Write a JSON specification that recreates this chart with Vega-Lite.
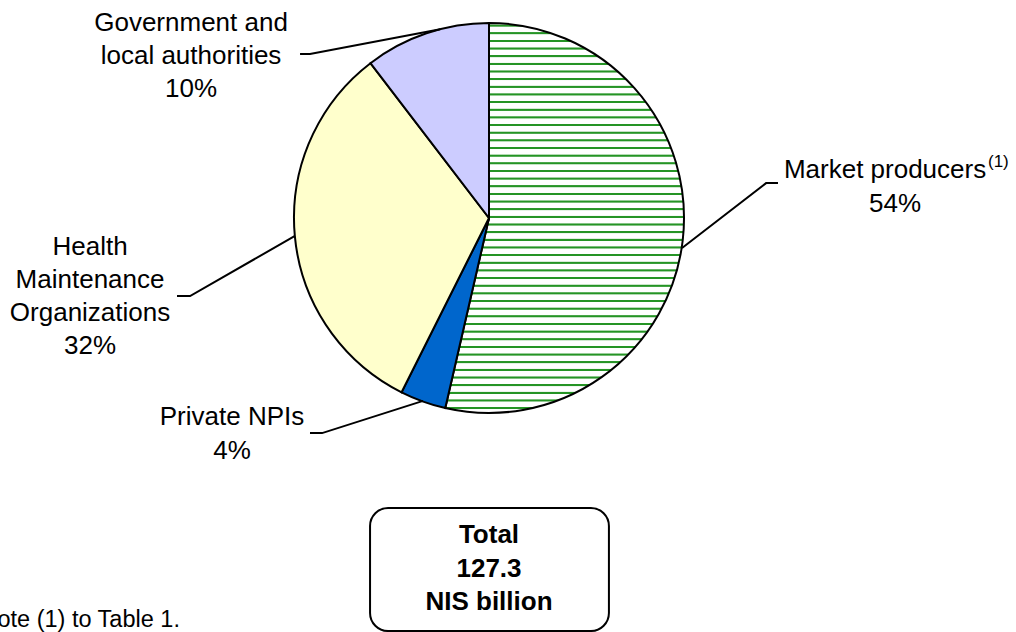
{
  "$schema": "https://vega.github.io/schema/vega-lite/v6.json",
  "width": 390,
  "height": 390,
  "autosize": {"type": "none"},
  "padding": {"left": 294, "top": 23, "right": 332, "bottom": 219},
  "background": "#ffffff",
  "config": {"view": {"stroke": null}, "text": {"font": "Liberation Sans"}},
  "datasets": {
    "slices": [
      {"sector": "Market producers", "share": 53.6, "ord": 1},
      {"sector": "Private NPIs", "share": 3.8, "ord": 2},
      {"sector": "Health Maintenance Organizations", "share": 32.2, "ord": 3},
      {"sector": "Government and local authorities", "share": 10.4, "ord": 4}
    ],
    "leaders": [
      {"g": "gov", "i": 0, "u": -0.969, "v": 0.841},
      {"g": "gov", "i": 1, "u": -0.918, "v": 0.841},
      {"g": "gov", "i": 2, "u": -0.25, "v": 0.968},
      {"g": "hmo", "i": 0, "u": -1.6, "v": -0.4},
      {"g": "hmo", "i": 1, "u": -1.533, "v": -0.4},
      {"g": "hmo", "i": 2, "u": -0.995, "v": -0.092},
      {"g": "npi", "i": 0, "u": -0.918, "v": -1.103},
      {"g": "npi", "i": 1, "u": -0.856, "v": -1.103},
      {"g": "npi", "i": 2, "u": -0.338, "v": -0.938},
      {"g": "mkt", "i": 0, "u": 1.482, "v": 0.179},
      {"g": "mkt", "i": 1, "u": 1.421, "v": 0.179},
      {"g": "mkt", "i": 2, "u": 0.99, "v": -0.154}
    ],
    "labels": [
      {"t": "Government and", "u": -1.528, "v": 0.959},
      {"t": "local authorities", "u": -1.528, "v": 0.79},
      {"t": "10%", "u": -1.528, "v": 0.621},
      {"t": "Health", "u": -2.046, "v": -0.19},
      {"t": "Maintenance", "u": -2.046, "v": -0.359},
      {"t": "Organizations", "u": -2.046, "v": -0.528},
      {"t": "32%", "u": -2.046, "v": -0.697},
      {"t": "Private NPIs", "u": -1.318, "v": -1.062},
      {"t": "4%", "u": -1.318, "v": -1.236},
      {"t": "Market producers", "u": 2.031, "v": 0.205},
      {"t": "54%", "u": 2.082, "v": 0.031}
    ],
    "sup": [{"t": "(1)", "u": 2.559, "v": 0.262}],
    "box": [{"u": -0.61, "u2": 0.615, "v": -1.487, "v2": -2.118}],
    "boxtext": [
      {"t": "Total", "u": 0.0, "v": -1.667},
      {"t": "127.3", "u": 0.0, "v": -1.841},
      {"t": "NIS billion", "u": 0.0, "v": -2.01}
    ],
    "note": [{"t": "(1) See note (1) to Table 1.", "u": -1.585, "v": -2.097}]
  },
  "layer": [
    {
      "data": {"name": "slices"},
      "mark": {"type": "arc", "outerRadius": 195, "stroke": "#000000", "strokeWidth": 2},
      "encoding": {
        "theta": {"field": "share", "type": "quantitative", "stack": true},
        "order": {"field": "ord", "type": "quantitative"},
        "fill": {
          "condition": {
            "test": "datum.sector === 'Market producers'",
            "value": {
              "gradient": "linear", "x1": 0, "y1": 0, "x2": 0, "y2": 1,
              "stops": [
                {"offset": 0.0, "color": "#ffffff"},
                {"offset": 0.0031, "color": "#ffffff"}, {"offset": 0.0049, "color": "#259425"}, {"offset": 0.0084, "color": "#259425"}, {"offset": 0.0102, "color": "#ffffff"},
                {"offset": 0.0227, "color": "#ffffff"}, {"offset": 0.0245, "color": "#259425"}, {"offset": 0.0280, "color": "#259425"}, {"offset": 0.0298, "color": "#ffffff"},
                {"offset": 0.0423, "color": "#ffffff"}, {"offset": 0.0441, "color": "#259425"}, {"offset": 0.0476, "color": "#259425"}, {"offset": 0.0494, "color": "#ffffff"},
                {"offset": 0.0619, "color": "#ffffff"}, {"offset": 0.0637, "color": "#259425"}, {"offset": 0.0673, "color": "#259425"}, {"offset": 0.0690, "color": "#ffffff"},
                {"offset": 0.0815, "color": "#ffffff"}, {"offset": 0.0833, "color": "#259425"}, {"offset": 0.0869, "color": "#259425"}, {"offset": 0.0887, "color": "#ffffff"},
                {"offset": 0.1012, "color": "#ffffff"}, {"offset": 0.1029, "color": "#259425"}, {"offset": 0.1065, "color": "#259425"}, {"offset": 0.1083, "color": "#ffffff"},
                {"offset": 0.1208, "color": "#ffffff"}, {"offset": 0.1226, "color": "#259425"}, {"offset": 0.1261, "color": "#259425"}, {"offset": 0.1279, "color": "#ffffff"},
                {"offset": 0.1404, "color": "#ffffff"}, {"offset": 0.1422, "color": "#259425"}, {"offset": 0.1457, "color": "#259425"}, {"offset": 0.1475, "color": "#ffffff"},
                {"offset": 0.1600, "color": "#ffffff"}, {"offset": 0.1618, "color": "#259425"}, {"offset": 0.1653, "color": "#259425"}, {"offset": 0.1671, "color": "#ffffff"},
                {"offset": 0.1796, "color": "#ffffff"}, {"offset": 0.1814, "color": "#259425"}, {"offset": 0.1850, "color": "#259425"}, {"offset": 0.1867, "color": "#ffffff"},
                {"offset": 0.1992, "color": "#ffffff"}, {"offset": 0.2010, "color": "#259425"}, {"offset": 0.2046, "color": "#259425"}, {"offset": 0.2064, "color": "#ffffff"},
                {"offset": 0.2189, "color": "#ffffff"}, {"offset": 0.2206, "color": "#259425"}, {"offset": 0.2242, "color": "#259425"}, {"offset": 0.2260, "color": "#ffffff"},
                {"offset": 0.2385, "color": "#ffffff"}, {"offset": 0.2403, "color": "#259425"}, {"offset": 0.2438, "color": "#259425"}, {"offset": 0.2456, "color": "#ffffff"},
                {"offset": 0.2581, "color": "#ffffff"}, {"offset": 0.2599, "color": "#259425"}, {"offset": 0.2634, "color": "#259425"}, {"offset": 0.2652, "color": "#ffffff"},
                {"offset": 0.2777, "color": "#ffffff"}, {"offset": 0.2795, "color": "#259425"}, {"offset": 0.2830, "color": "#259425"}, {"offset": 0.2848, "color": "#ffffff"},
                {"offset": 0.2973, "color": "#ffffff"}, {"offset": 0.2991, "color": "#259425"}, {"offset": 0.3027, "color": "#259425"}, {"offset": 0.3044, "color": "#ffffff"},
                {"offset": 0.3169, "color": "#ffffff"}, {"offset": 0.3187, "color": "#259425"}, {"offset": 0.3223, "color": "#259425"}, {"offset": 0.3241, "color": "#ffffff"},
                {"offset": 0.3366, "color": "#ffffff"}, {"offset": 0.3383, "color": "#259425"}, {"offset": 0.3419, "color": "#259425"}, {"offset": 0.3437, "color": "#ffffff"},
                {"offset": 0.3562, "color": "#ffffff"}, {"offset": 0.3580, "color": "#259425"}, {"offset": 0.3615, "color": "#259425"}, {"offset": 0.3633, "color": "#ffffff"},
                {"offset": 0.3758, "color": "#ffffff"}, {"offset": 0.3776, "color": "#259425"}, {"offset": 0.3811, "color": "#259425"}, {"offset": 0.3829, "color": "#ffffff"},
                {"offset": 0.3954, "color": "#ffffff"}, {"offset": 0.3972, "color": "#259425"}, {"offset": 0.4007, "color": "#259425"}, {"offset": 0.4025, "color": "#ffffff"},
                {"offset": 0.4150, "color": "#ffffff"}, {"offset": 0.4168, "color": "#259425"}, {"offset": 0.4204, "color": "#259425"}, {"offset": 0.4222, "color": "#ffffff"},
                {"offset": 0.4346, "color": "#ffffff"}, {"offset": 0.4364, "color": "#259425"}, {"offset": 0.4400, "color": "#259425"}, {"offset": 0.4418, "color": "#ffffff"},
                {"offset": 0.4543, "color": "#ffffff"}, {"offset": 0.4560, "color": "#259425"}, {"offset": 0.4596, "color": "#259425"}, {"offset": 0.4614, "color": "#ffffff"},
                {"offset": 0.4739, "color": "#ffffff"}, {"offset": 0.4757, "color": "#259425"}, {"offset": 0.4792, "color": "#259425"}, {"offset": 0.4810, "color": "#ffffff"},
                {"offset": 0.4935, "color": "#ffffff"}, {"offset": 0.4953, "color": "#259425"}, {"offset": 0.4988, "color": "#259425"}, {"offset": 0.5006, "color": "#ffffff"},
                {"offset": 0.5131, "color": "#ffffff"}, {"offset": 0.5149, "color": "#259425"}, {"offset": 0.5185, "color": "#259425"}, {"offset": 0.5202, "color": "#ffffff"},
                {"offset": 0.5327, "color": "#ffffff"}, {"offset": 0.5345, "color": "#259425"}, {"offset": 0.5381, "color": "#259425"}, {"offset": 0.5399, "color": "#ffffff"},
                {"offset": 0.5523, "color": "#ffffff"}, {"offset": 0.5541, "color": "#259425"}, {"offset": 0.5577, "color": "#259425"}, {"offset": 0.5595, "color": "#ffffff"},
                {"offset": 0.5720, "color": "#ffffff"}, {"offset": 0.5738, "color": "#259425"}, {"offset": 0.5773, "color": "#259425"}, {"offset": 0.5791, "color": "#ffffff"},
                {"offset": 0.5916, "color": "#ffffff"}, {"offset": 0.5934, "color": "#259425"}, {"offset": 0.5969, "color": "#259425"}, {"offset": 0.5987, "color": "#ffffff"},
                {"offset": 0.6112, "color": "#ffffff"}, {"offset": 0.6130, "color": "#259425"}, {"offset": 0.6165, "color": "#259425"}, {"offset": 0.6183, "color": "#ffffff"},
                {"offset": 0.6308, "color": "#ffffff"}, {"offset": 0.6326, "color": "#259425"}, {"offset": 0.6362, "color": "#259425"}, {"offset": 0.6379, "color": "#ffffff"},
                {"offset": 0.6504, "color": "#ffffff"}, {"offset": 0.6522, "color": "#259425"}, {"offset": 0.6558, "color": "#259425"}, {"offset": 0.6576, "color": "#ffffff"},
                {"offset": 0.6701, "color": "#ffffff"}, {"offset": 0.6718, "color": "#259425"}, {"offset": 0.6754, "color": "#259425"}, {"offset": 0.6772, "color": "#ffffff"},
                {"offset": 0.6897, "color": "#ffffff"}, {"offset": 0.6915, "color": "#259425"}, {"offset": 0.6950, "color": "#259425"}, {"offset": 0.6968, "color": "#ffffff"},
                {"offset": 0.7093, "color": "#ffffff"}, {"offset": 0.7111, "color": "#259425"}, {"offset": 0.7146, "color": "#259425"}, {"offset": 0.7164, "color": "#ffffff"},
                {"offset": 0.7289, "color": "#ffffff"}, {"offset": 0.7307, "color": "#259425"}, {"offset": 0.7342, "color": "#259425"}, {"offset": 0.7360, "color": "#ffffff"},
                {"offset": 0.7485, "color": "#ffffff"}, {"offset": 0.7503, "color": "#259425"}, {"offset": 0.7539, "color": "#259425"}, {"offset": 0.7556, "color": "#ffffff"},
                {"offset": 0.7681, "color": "#ffffff"}, {"offset": 0.7699, "color": "#259425"}, {"offset": 0.7735, "color": "#259425"}, {"offset": 0.7753, "color": "#ffffff"},
                {"offset": 0.7878, "color": "#ffffff"}, {"offset": 0.7895, "color": "#259425"}, {"offset": 0.7931, "color": "#259425"}, {"offset": 0.7949, "color": "#ffffff"},
                {"offset": 0.8074, "color": "#ffffff"}, {"offset": 0.8092, "color": "#259425"}, {"offset": 0.8127, "color": "#259425"}, {"offset": 0.8145, "color": "#ffffff"},
                {"offset": 0.8270, "color": "#ffffff"}, {"offset": 0.8288, "color": "#259425"}, {"offset": 0.8323, "color": "#259425"}, {"offset": 0.8341, "color": "#ffffff"},
                {"offset": 0.8466, "color": "#ffffff"}, {"offset": 0.8484, "color": "#259425"}, {"offset": 0.8519, "color": "#259425"}, {"offset": 0.8537, "color": "#ffffff"},
                {"offset": 0.8662, "color": "#ffffff"}, {"offset": 0.8680, "color": "#259425"}, {"offset": 0.8716, "color": "#259425"}, {"offset": 0.8733, "color": "#ffffff"},
                {"offset": 0.8858, "color": "#ffffff"}, {"offset": 0.8876, "color": "#259425"}, {"offset": 0.8912, "color": "#259425"}, {"offset": 0.8930, "color": "#ffffff"},
                {"offset": 0.9055, "color": "#ffffff"}, {"offset": 0.9072, "color": "#259425"}, {"offset": 0.9108, "color": "#259425"}, {"offset": 0.9126, "color": "#ffffff"},
                {"offset": 0.9251, "color": "#ffffff"}, {"offset": 0.9269, "color": "#259425"}, {"offset": 0.9304, "color": "#259425"}, {"offset": 0.9322, "color": "#ffffff"},
                {"offset": 0.9447, "color": "#ffffff"}, {"offset": 0.9465, "color": "#259425"}, {"offset": 0.9500, "color": "#259425"}, {"offset": 0.9518, "color": "#ffffff"},
                {"offset": 0.9643, "color": "#ffffff"}, {"offset": 0.9661, "color": "#259425"}, {"offset": 0.9696, "color": "#259425"}, {"offset": 0.9714, "color": "#ffffff"},
                {"offset": 0.9839, "color": "#ffffff"}, {"offset": 0.9857, "color": "#259425"}, {"offset": 0.9893, "color": "#259425"}, {"offset": 0.9910, "color": "#ffffff"},
                {"offset": 1.0, "color": "#ffffff"}
              ]
            }
          },
          "field": "sector",
          "type": "nominal",
          "scale": {
            "domain": ["Market producers", "Private NPIs", "Health Maintenance Organizations", "Government and local authorities"],
            "range": ["#ffffff", "#0066cc", "#ffffcc", "#ccccff"]
          },
          "legend": null
        }
      }
    },
    {
      "data": {"name": "leaders"},
      "mark": {"type": "line", "stroke": "#000000", "strokeWidth": 2},
      "encoding": {
        "x": {"field": "u", "type": "quantitative", "scale": {"domain": [-1, 1], "nice": false, "zero": false}, "axis": null},
        "y": {"field": "v", "type": "quantitative", "scale": {"domain": [-1, 1], "nice": false, "zero": false}, "axis": null},
        "detail": {"field": "g", "type": "nominal"},
        "order": {"field": "i", "type": "quantitative"}
      }
    },
    {
      "data": {"name": "labels"},
      "mark": {"type": "text", "fontSize": 26, "align": "center", "baseline": "alphabetic", "color": "#000000"},
      "encoding": {
        "x": {"field": "u", "type": "quantitative"},
        "y": {"field": "v", "type": "quantitative"},
        "text": {"field": "t", "type": "nominal"}
      }
    },
    {
      "data": {"name": "sup"},
      "mark": {"type": "text", "fontSize": 17, "align": "left", "baseline": "alphabetic", "color": "#000000"},
      "encoding": {
        "x": {"field": "u", "type": "quantitative"},
        "y": {"field": "v", "type": "quantitative"},
        "text": {"field": "t", "type": "nominal"}
      }
    },
    {
      "data": {"name": "box"},
      "mark": {"type": "rect", "fill": "#ffffff", "stroke": "#000000", "strokeWidth": 2, "cornerRadius": 18},
      "encoding": {
        "x": {"field": "u", "type": "quantitative"},
        "x2": {"field": "u2"},
        "y": {"field": "v", "type": "quantitative"},
        "y2": {"field": "v2"}
      }
    },
    {
      "data": {"name": "boxtext"},
      "mark": {"type": "text", "fontSize": 26, "fontWeight": "bold", "align": "center", "baseline": "alphabetic", "color": "#000000"},
      "encoding": {
        "x": {"field": "u", "type": "quantitative"},
        "y": {"field": "v", "type": "quantitative"},
        "text": {"field": "t", "type": "nominal"}
      }
    },
    {
      "data": {"name": "note"},
      "mark": {"type": "text", "fontSize": 23.5, "align": "right", "baseline": "alphabetic", "color": "#000000"},
      "encoding": {
        "x": {"field": "u", "type": "quantitative"},
        "y": {"field": "v", "type": "quantitative"},
        "text": {"field": "t", "type": "nominal"}
      }
    }
  ]
}
